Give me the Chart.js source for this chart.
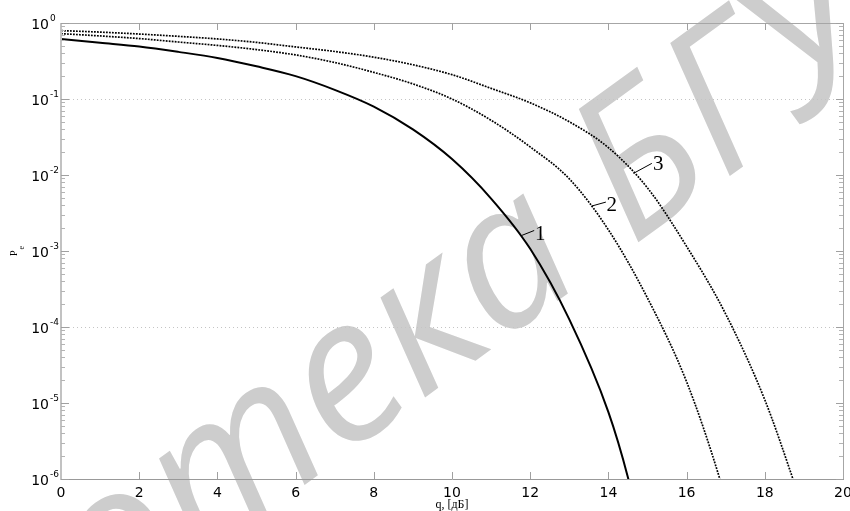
<!DOCTYPE html>
<html>
<head>
<meta charset="utf-8">
<script src="https://cdn.jsdelivr.net/npm/chart.js@4/dist/chart.umd.min.js"></script>
<style>
  html, body { margin: 0; padding: 0; background: #fff; }
  canvas { display: block; }
</style>
</head>
<body>
<canvas id="peChart" width="850" height="511"></canvas>
<script>
// values: q in dB, Pe (log scale)
const q1  = [0, 1, 2, 3, 4, 5, 6, 7, 8, 9, 10, 11, 12, 13, 14, 14.5, 14.6];
const pe1 = [0.617, 0.55, 0.49, 0.417, 0.347, 0.269, 0.2, 0.132, 0.0794, 0.0398, 0.0162,
             4.9e-3, 1.07e-3, 1.26e-4, 7.6e-6, 1.05e-6, 6.3e-7];

const q2  = [0, 1, 2, 3, 4, 5, 6, 7, 8, 9, 10, 11, 12, 13, 14, 15, 16, 16.85, 16.95];
const pe2 = [0.724, 0.676, 0.624, 0.562, 0.507, 0.447, 0.38, 0.302, 0.224, 0.158, 0.1,
             0.0525, 0.0234, 8.9e-3, 1.9e-3, 2.4e-4, 1.9e-5, 1.0e-6, 6.5e-7];

const q3  = [0, 1, 2, 3, 4, 5, 6, 7, 8, 9, 10, 11, 12, 13, 14, 15, 16, 17, 18, 18.72, 18.8];
const pe3 = [0.794, 0.759, 0.716, 0.668, 0.617, 0.556, 0.484, 0.422, 0.355, 0.282, 0.209,
             0.138, 0.0891, 0.0501, 0.0229, 6.76e-3, 1.15e-3, 1.48e-4, 1.1e-5, 1.0e-6, 7.5e-7];

// axis ticks
const xTicks = [0, 2, 4, 6, 8, 10, 12, 14, 16, 18, 20];
const yExponents = [0, -1, -2, -3, -4, -5, -6];
const gridDecades = [1e-1, 1e-4];

// curve number labels, anchored on the curves
const curveNames = ['1', '2', '3'];
const labelQ = [11.78, 13.57, 14.64];
const labelPe = [1.6e-3, 3.9e-3, 0.0105];

function toPoints(qs, ps) {
  return qs.map((q, i) => ({ x: q, y: ps[i] }));
}

/* ---------- watermark behind everything ---------- */
const watermark = {
  id: 'watermark',
  beforeDraw(chart) {
    const ctx = chart.ctx;
    ctx.save();
    ctx.font = 'italic 200px "Open Sans"';
    ctx.fillStyle = '#cdcdcd';
    ctx.translate(240, 470);
    ctx.rotate(-36 * Math.PI / 180);
    const w0 = ctx.measureText('Библио').width;
    const wt = ctx.measureText('т').width;
    ctx.fillText('Библиотека БГУИР', -w0 - wt / 2, 50);
    ctx.restore();
  }
};

/* ---------- dotted grid, frame, ticks, tick labels ---------- */
const axesFrame = {
  id: 'axesFrame',
  beforeDatasetsDraw(chart) {
    const { ctx, chartArea: a, scales: { y } } = chart;
    ctx.save();
    ctx.strokeStyle = '#c4c4c4';
    ctx.lineWidth = 1;
    ctx.setLineDash([1, 3]);
    gridDecades.forEach(v => {
      const py = Math.round(y.getPixelForValue(v)) + 0.5;
      ctx.beginPath();
      ctx.moveTo(a.left, py);
      ctx.lineTo(a.right, py);
      ctx.stroke();
    });
    ctx.restore();
  },
  afterDatasetsDraw(chart) {
    const { ctx, chartArea: a, scales: { x, y } } = chart;
    const L = Math.round(a.left), R = Math.round(a.right);
    const T = Math.round(a.top), B = Math.round(a.bottom);
    ctx.save();
    ctx.lineWidth = 1;

    const seg = (x1, y1, x2, y2, col) => {
      ctx.strokeStyle = col;
      ctx.beginPath();
      ctx.moveTo(x1, y1);
      ctx.lineTo(x2, y2);
      ctx.stroke();
    };

    // frame
    seg(L, T + 0.5, R, T + 0.5, '#a6a6a6');
    seg(L, B + 0.5, R + 1, B + 0.5, '#999999');
    seg(R + 0.5, T, R + 0.5, B, '#a6a6a6');
    ctx.lineWidth = 2;
    seg(L, T, L, B + 1, '#c2c2c2');
    ctx.lineWidth = 1;

    // x ticks (inside, top and bottom)
    xTicks.forEach(v => {
      const px = Math.round(x.getPixelForValue(v)) + 0.5;
      if (v !== 0 && v !== 20) {
        seg(px, B, px, B - 7, '#a0a0a0');
        seg(px, T, px, T + 7, '#a0a0a0');
      }
    });

    // y ticks, major and minor (inside, left and right)
    yExponents.forEach(e => {
      const base = Math.pow(10, e);
      const py = Math.round(y.getPixelForValue(base)) + 0.5;
      seg(L, py, L + 8, py, '#a0a0a0');
      seg(R, py, R - 7, py, '#a0a0a0');
      if (e > -6) {
        for (let k = 2; k <= 9; k++) {
          const pm = Math.round(y.getPixelForValue(base / 10 * k)) + 0.5;
          seg(L, pm, L + 4, pm, '#b4b4b4');
          seg(R, pm, R - 4, pm, '#b4b4b4');
        }
      }
    });

    // x tick labels
    ctx.fillStyle = '#000';
    ctx.font = '14px "DejaVu Sans"';
    ctx.textAlign = 'center';
    ctx.textBaseline = 'alphabetic';
    xTicks.forEach(v => {
      ctx.fillText(String(v), x.getPixelForValue(v), B + 18);
    });

    // y tick labels 10^e
    yExponents.forEach(e => {
      const py = y.getPixelForValue(Math.pow(10, e));
      ctx.font = '14px "DejaVu Sans"';
      ctx.textAlign = 'right';
      ctx.fillText('10', 49, py + 6);
      ctx.font = '9px "DejaVu Sans"';
      ctx.textAlign = 'left';
      ctx.fillText(e === 0 ? '0' : '-' + (-e), 50, py - 2.5);
    });

    // axis titles
    ctx.font = '12px "Liberation Serif"';
    ctx.textAlign = 'center';
    ctx.fillText('q, [дБ]', x.getPixelForValue(10), 508);

    ctx.translate(14, (T + B) / 2);
    ctx.rotate(-Math.PI / 2);
    ctx.textAlign = 'left';
    ctx.font = '10px "Liberation Serif"';
    ctx.fillText('P', -5, 2.7);
    ctx.font = '8px "Liberation Serif"';
    ctx.fillText('e', 1.5, 9.5);
    ctx.restore();
  }
};

/* ---------- curve number labels with leader strokes ---------- */
const leaderOffsets = [[12.6, -5], [14.3, -4], [18.4, -10]];
const textOffsets = [[13.5, 4.7], [15, 4.7], [19.7, -3.7]];

const curveLabels = {
  id: 'curveLabels',
  afterDatasetsDraw(chart) {
    const { ctx, scales: { x, y } } = chart;
    ctx.save();
    ctx.strokeStyle = '#000';
    ctx.fillStyle = '#000';
    ctx.lineWidth = 1;
    ctx.font = '21px "Liberation Serif"';
    ctx.textAlign = 'left';
    curveNames.forEach((name, i) => {
      const px = x.getPixelForValue(labelQ[i]);
      const py = y.getPixelForValue(labelPe[i]);
      ctx.beginPath();
      ctx.moveTo(px, py);
      ctx.lineTo(px + leaderOffsets[i][0], py + leaderOffsets[i][1]);
      ctx.stroke();
      ctx.fillText(name, px + textOffsets[i][0], py + textOffsets[i][1]);
    });
    ctx.restore();
  }
};

/* ---------- chart ---------- */
const dotted = { borderColor: '#000', borderWidth: 1.7, borderDash: [1.8, 1.2], pointRadius: 0,
                 cubicInterpolationMode: 'monotone', fill: false };

new Chart(document.getElementById('peChart'), {
  type: 'line',
  data: {
    datasets: [
      {
        label: '1',
        data: toPoints(q1, pe1),
        borderColor: '#000',
        borderWidth: 2,
        pointRadius: 0,
        cubicInterpolationMode: 'monotone',
        fill: false
      },
      Object.assign({ label: '2', data: toPoints(q2, pe2) }, dotted),
      Object.assign({ label: '3', data: toPoints(q3, pe3) }, dotted)
    ]
  },
  options: {
    responsive: false,
    animation: false,
    devicePixelRatio: 1,
    layout: { padding: { top: 23, right: 7, left: 0, bottom: 0 } },
    plugins: {
      legend: { display: false },
      tooltip: { enabled: false }
    },
    scales: {
      x: {
        type: 'linear',
        min: 0,
        max: 20,
        ticks: { display: false, stepSize: 2 },
        grid: { display: false },
        border: { display: false },
        afterFit: s => { s.height = 32; }
      },
      y: {
        type: 'logarithmic',
        min: 1e-6,
        max: 1,
        ticks: { display: false },
        grid: { display: false },
        border: { display: false },
        afterFit: s => { s.width = 61; }
      }
    }
  },
  plugins: [watermark, axesFrame, curveLabels]
});
</script>
</body>
</html>
